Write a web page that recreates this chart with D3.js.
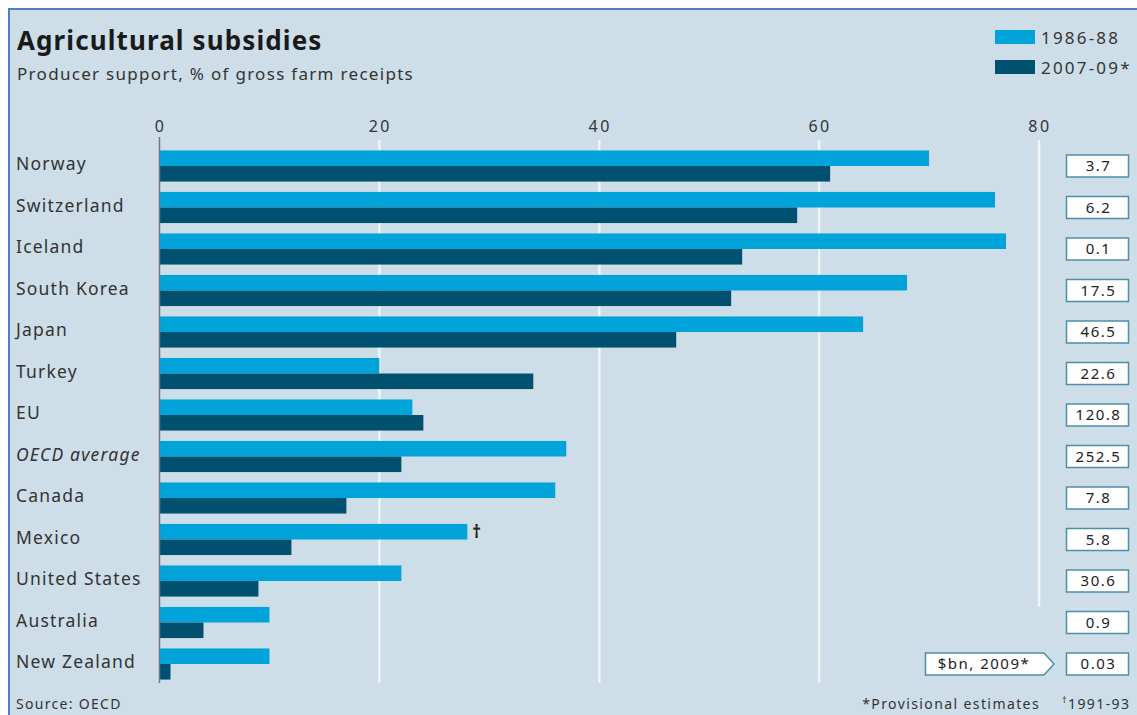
<!DOCTYPE html>
<html>
<head>
<meta charset="utf-8">
<script src="https://cdn.jsdelivr.net/npm/d3@7"></script>
<style>
body { margin: 0; background: #fff; }
svg text { font-family: "Noto Sans", "Open Sans", sans-serif; }
</style>
</head>
<body>
<svg id="chart" width="1137" height="715"></svg>
<script>
var countries = ['Norway', 'Switzerland', 'Iceland', 'South Korea', 'Japan', 'Turkey', 'EU',
	'OECD average', 'Canada', 'Mexico', 'United States', 'Australia', 'New Zealand'];
var early = [70, 76, 77, 68, 64, 20, 23, 37, 36, 28, 22, 10, 10];
var late = [61, 58, 53, 52, 47, 34, 24, 22, 17, 12, 9, 4, 1];
var dollars = ['3.7', '6.2', '0.1', '17.5', '46.5', '22.6', '120.8', '252.5', '7.8', '5.8', '30.6', '0.9', '0.03'];
var seriesNames = ['1986-88', '2007-09*'];
var xTicks = [0, 20, 40, 60, 80];

var lightBlue = '#00a4da';
var darkBlue = '#00506f';

var svg = d3.select('#chart');

// panel background and frame
svg.append('rect').attr('x', 9).attr('y', 9).attr('width', 1128).attr('height', 706).attr('fill', '#cddee8');
svg.append('line').attr('x1', 8).attr('x2', 1137).attr('y1', 9).attr('y2', 9).attr('stroke', '#4d80c0').attr('stroke-width', 2);
svg.append('line').attr('x1', 9).attr('x2', 9).attr('y1', 8).attr('y2', 715).attr('stroke', '#4d80c0').attr('stroke-width', 2);

svg.append('text').attr('x', 17).attr('y', 50).text('Agricultural subsidies')
	.style('font-size', '26px').style('font-weight', 'bold').style('letter-spacing', '1.1px').attr('fill', '#1a1a1a');
svg.append('text').attr('x', 17).attr('y', 80).text('Producer support, % of gross farm receipts')
	.style('font-size', '17px').style('letter-spacing', '1.3px').attr('fill', '#333');

var x = d3.scaleLinear().domain([0, 80]).range([159.5, 1039]);
var y = d3.scaleBand().domain(countries).range([145.25, 684.75]).paddingInner(0.25).paddingOuter(0.125);
var ySub = d3.scaleBand().domain([0, 1]).range([0, y.bandwidth()]);

// gridlines
svg.selectAll('.grid').data(xTicks.slice(1)).enter().append('line')
	.attr('x1', function(d) { return x(d); })
	.attr('x2', function(d) { return x(d); })
	.attr('y1', 140)
	.attr('y2', function(d) { return d === 80 ? 607 : 683; })
	.attr('stroke', '#eef4f8').attr('stroke-width', 2.5);

svg.selectAll('.tick-label').data(xTicks).enter().append('text')
	.attr('x', function(d) { return x(d) + 1; })
	.attr('y', 132)
	.attr('text-anchor', 'middle')
	.text(function(d) { return d; })
	.style('font-size', '16px').style('letter-spacing', '2.5px').attr('fill', '#333');

var rows = svg.selectAll('.row').data(countries).enter().append('g')
	.attr('transform', function(d) { return 'translate(0,' + y(d) + ')'; });

rows.append('rect')
	.attr('x', x(0))
	.attr('y', ySub(0))
	.attr('width', function(d, i) { return x(early[i]) - x(0); })
	.attr('height', ySub.bandwidth())
	.attr('fill', lightBlue);

rows.append('rect')
	.attr('x', x(0))
	.attr('y', ySub(1))
	.attr('width', function(d, i) { return x(late[i]) - x(0); })
	.attr('height', ySub.bandwidth())
	.attr('fill', darkBlue);

rows.append('text')
	.attr('x', 16)
	.attr('y', y.bandwidth() / 2 + 4)
	.text(function(d) { return d; })
	.style('font-size', '17.5px')
	.style('letter-spacing', '1.2px')
	.style('font-style', function(d) { return d === 'OECD average' ? 'italic' : 'normal'; })
	.attr('fill', '#333');

// value boxes
rows.append('rect')
	.attr('x', 1066.5).attr('y', y.bandwidth() / 2 - 11)
	.attr('width', 62).attr('height', 22)
	.attr('fill', '#fff').attr('stroke', '#4d8eab').attr('stroke-width', 1.5);
rows.append('text')
	.attr('x', 1098.5).attr('y', y.bandwidth() / 2 + 5)
	.attr('text-anchor', 'middle')
	.text(function(d, i) { return dollars[i]; })
	.style('font-size', '15px').style('letter-spacing', '1.5px').attr('fill', '#222');

// axis line
svg.append('line').attr('x1', x(0)).attr('x2', x(0)).attr('y1', 137).attr('y2', 683)
	.attr('stroke', '#777').attr('stroke-width', 1.5);

// dagger for Mexico
svg.append('text')
	.attr('x', x(early[countries.indexOf('Mexico')]) + 5)
	.attr('y', y('Mexico') + ySub.bandwidth() / 2 + 6)
	.text('\u2020').style('font-size', '17px').style('font-weight', 'bold').attr('fill', '#222');

// callout
var cy = y('New Zealand') + y.bandwidth() / 2;
svg.append('path')
	.attr('d', 'M925.5,' + (cy - 11) + 'H1044L1054,' + cy + 'L1044,' + (cy + 11) + 'H925.5Z')
	.attr('fill', '#fff').attr('stroke', '#4d8eab').attr('stroke-width', 1.5);
svg.append('text').attr('x', 984).attr('y', cy + 5).attr('text-anchor', 'middle')
	.text('$bn, 2009*').style('font-size', '15px').style('letter-spacing', '1.5px').attr('fill', '#222');

// legend
var legend = svg.selectAll('.legend').data(seriesNames).enter().append('g')
	.attr('transform', function(d, i) { return 'translate(995,' + (30 + i * 30) + ')'; });
legend.append('rect').attr('width', 40).attr('height', 14)
	.attr('fill', function(d, i) { return i === 0 ? lightBlue : darkBlue; });
legend.append('text').attr('x', 46).attr('y', 14)
	.text(function(d) { return d; })
	.style('font-size', '17px').style('letter-spacing', '2.2px').attr('fill', '#333');

// footer
svg.append('text').attr('x', 16).attr('y', 709).text('Source: OECD')
	.style('font-size', '14px').style('letter-spacing', '1.3px').attr('fill', '#333');
svg.append('text').attr('x', 1040).attr('y', 709).attr('text-anchor', 'end').text('*Provisional estimates')
	.style('font-size', '14px').style('letter-spacing', '1.4px').attr('fill', '#333');
var foot = svg.append('text').attr('x', 1062).attr('y', 709).style('font-size', '14px')
	.style('letter-spacing', '1.4px').attr('fill', '#333');
foot.append('tspan').text('\u2020').style('font-size', '9px').attr('dy', -6);
foot.append('tspan').text('1991-93').attr('dy', 6);
</script>
</body>
</html>
